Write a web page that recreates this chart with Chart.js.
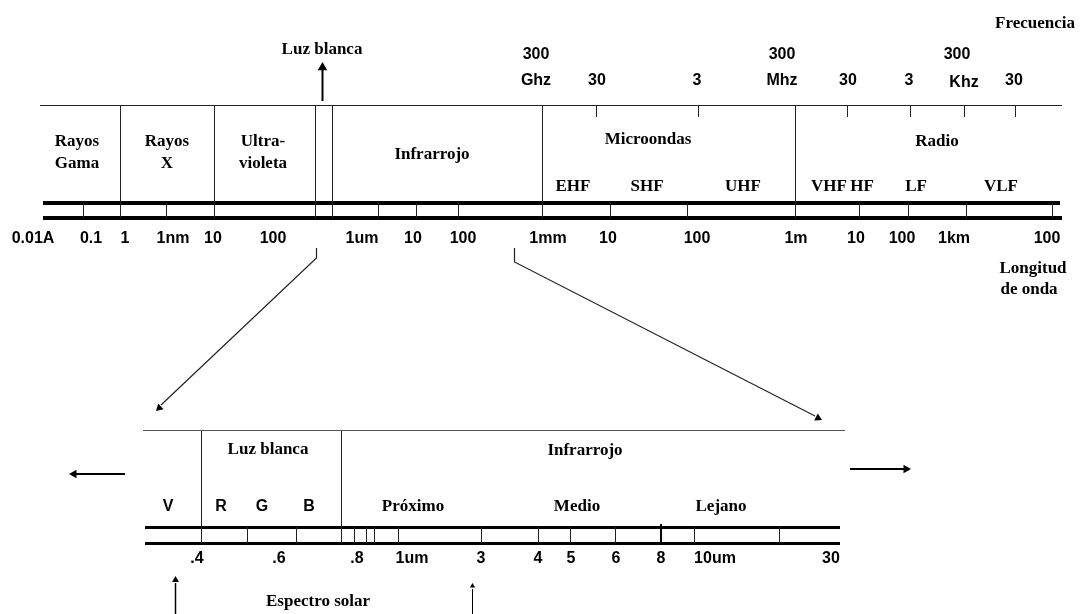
<!DOCTYPE html>
<html>
<head>
<meta charset="utf-8">
<title>Espectro electromagnético</title>
<script src="https://cdn.jsdelivr.net/npm/chart.js@4.4.1/dist/chart.umd.min.js"></script>
<style>
  html, body { margin: 0; background: #fff; }
  canvas { display: block; }
</style>
</head>
<body>
<canvas id="spectrum" width="1082" height="614"></canvas>
<script>
/* ============================================================
   Espectro electromagnético - diagrama dibujado con Chart.js
   Las posiciones son unidades del eje (0..1082, 0..614)
   ============================================================ */

// --- espectro completo (arriba) ---
const bandEdges = [120, 214, 315, 332, 542, 795];
const bandNames = [['Rayos', 'Gama'], ['Rayos', 'X'], ['Ultra-', 'violeta'], ['Infrarrojo'], ['Microondas'], ['Radio']];
const bandNameX = [77, 167, 263, 432, 648, 937];

const subBands = ['EHF', 'SHF', 'UHF', 'VHF', 'HF', 'LF', 'VLF'];
const subBandX = [573, 647, 743, 829, 862, 916, 1001];

const wlTicks = [83, 166, 378, 416, 458, 610, 687, 859, 908, 966, 1052];
const wlLabels = ['0.01A', '0.1', '1', '1nm', '10', '100', '1um', '10', '100', '1mm', '10', '100', '1m', '10', '100', '1km', '100'];
const wlLabelX = [33, 91, 125, 173, 213, 273, 362, 413, 463, 548, 608, 697, 796, 856, 902, 954, 1047];

const freqTicks = [596, 698, 847, 910, 964, 1015];
const freqNumbers = ['30', '3', '30', '3', '30'];
const freqNumberX = [597, 697, 848, 909, 1014];
const freqUnits = ['Ghz', 'Mhz', 'Khz'];
const freqUnitX = [536, 782, 964];
const freq300X = [536, 782, 957];

// --- detalle visible / infrarrojo (abajo) ---
const detailEdges = [201, 341];
const detailTicks = [247, 296, 354, 366, 374, 398, 481, 538, 570, 615, 694, 779];
const detailLabels = ['.4', '.6', '.8', '1um', '3', '4', '5', '6', '8', '10um', '30'];
const detailLabelX = [197, 279, 357, 412, 481, 538, 571, 616, 661, 715, 831];
const colorBands = ['V', 'R', 'G', 'B'];
const colorBandX = [168, 221, 262, 309];
const irBands = ['Próximo', 'Medio', 'Lejano'];
const irBandX = [413, 577, 721];

const SERIF = 'bold 17px "Liberation Serif", "Times New Roman", serif';
const SANS = 'bold 16px "Liberation Sans", Arial, sans-serif';

const datasets = [];
const texts = [];

function seg(x1, y1, x2, y2, w, color) {
  datasets.push({
    data: [{ x: x1, y: y1 }, { x: x2, y: y2 }],
    showLine: true,
    borderColor: color || '#000',
    borderWidth: w || 1,
    pointRadius: 0,
    pointHoverRadius: 0
  });
}

function poly(points, w, color) {
  datasets.push({
    data: points.map(p => ({ x: p[0], y: p[1] })),
    showLine: true,
    borderColor: color || '#000',
    borderWidth: w || 1,
    pointRadius: 0,
    pointHoverRadius: 0
  });
}

// arrow head drawn as a rotated triangle point at the tip
function head(tx, ty, fromX, fromY, r) {
  const dx = tx - fromX, dy = ty - fromY;
  const len = Math.hypot(dx, dy);
  const ux = dx / len, uy = dy / len;
  datasets.push({
    data: [{ x: tx - ux * r, y: ty - uy * r }],
    pointStyle: 'triangle',
    pointRadius: r,
    pointRotation: Math.atan2(dx, -dy) * 180 / Math.PI,
    backgroundColor: '#000',
    borderColor: '#000',
    borderWidth: 0,
    showLine: false
  });
}

// serif glyphs sit a bit high with a middle baseline, nudge them down
function txt(t, x, y, font) {
  texts.push({ t, x, y: y + (font === SERIF ? 2 : 1.5), font });
}

// ---------- top diagram ----------
seg(40, 105.5, 1062, 105.5, 1, '#222');
bandEdges.forEach(x => seg(x + 0.5, 105, x + 0.5, 218, 1, '#222'));
wlTicks.forEach(x => seg(x + 0.5, 203, x + 0.5, 218, 1, '#222'));
freqTicks.forEach(x => seg(x + 0.5, 105, x + 0.5, 117, 1, '#222'));
seg(43, 203, 1060, 203, 4);
seg(43, 218, 1062, 218, 4);

bandNames.forEach((lines, i) => {
  if (lines.length === 2) {
    txt(lines[0], bandNameX[i], 140, SERIF);
    txt(lines[1], bandNameX[i], 162, SERIF);
  }
});
txt('Infrarrojo', bandNameX[3], 153, SERIF);
txt('Microondas', bandNameX[4], 138, SERIF);
txt('Radio', bandNameX[5], 140, SERIF);
subBands.forEach((s, i) => txt(s, subBandX[i], 185, SERIF));
wlLabels.forEach((s, i) => txt(s, wlLabelX[i], 237, SANS));

freq300X.forEach(x => txt('300', x, 53, SANS));
freqUnits.forEach((s, i) => txt(s, freqUnitX[i], i === 2 ? 81 : 79, SANS));
freqNumbers.forEach((s, i) => txt(s, freqNumberX[i], 79, SANS));

txt('Frecuencia', 1035, 22, SERIF);
txt('Luz blanca', 322, 48, SERIF);
txt('Longitud', 1033, 267, SERIF);
txt('de onda', 1029, 288, SERIF);

// luz blanca arrow
seg(322.5, 101, 322.5, 70, 2);
head(322.5, 62, 322.5, 101, 5.5);

// zoom connectors
poly([[316.5, 248], [316.5, 258], [161, 405]], 1.2, '#222');
head(156, 411, 316.5, 258, 4.5);
poly([[514.5, 248], [514.5, 262], [815, 416]], 1.2, '#222');
head(822, 420, 514.5, 262, 4.5);

// ---------- bottom diagram ----------
seg(143, 430.5, 845, 430.5, 1, '#555');
detailEdges.forEach(x => seg(x + 0.5, 430, x + 0.5, 543, 1, '#222'));
detailTicks.forEach(x => seg(x + 0.5, 527, x + 0.5, 543, 1, '#222'));
seg(661, 524, 661, 545, 2);
seg(145, 527.5, 840, 527.5, 3);
seg(145, 543.5, 840, 543.5, 3);

txt('Luz blanca', 268, 448, SERIF);
txt('Infrarrojo', 585, 449, SERIF);
colorBands.forEach((s, i) => txt(s, colorBandX[i], 505, SANS));
irBands.forEach((s, i) => txt(s, irBandX[i], 505, SERIF));
detailLabels.forEach((s, i) => txt(s, detailLabelX[i], 557, SANS));
txt('Espectro solar', 318, 600, SERIF);

// side arrows
seg(125, 474, 76, 474, 2);
head(69, 474, 125, 474, 5);
seg(850, 469, 904, 469, 2);
head(911, 469, 850, 469, 5);

// solar spectrum arrows
seg(175.5, 614, 175.5, 583, 1.5);
head(175.5, 576, 175.5, 614, 4);
seg(472.5, 614, 472.5, 589, 1);
head(472.5, 583, 472.5, 614, 3);

const textPlugin = {
  id: 'diagramText',
  afterDatasetsDraw(chart) {
    const ctx = chart.ctx;
    const xs = chart.scales.x, ys = chart.scales.y;
    ctx.save();
    ctx.fillStyle = '#000';
    ctx.textAlign = 'center';
    ctx.textBaseline = 'middle';
    texts.forEach(item => {
      ctx.font = item.font;
      ctx.fillText(item.t, xs.getPixelForValue(item.x), ys.getPixelForValue(item.y));
    });
    ctx.restore();
  }
};

new Chart(document.getElementById('spectrum'), {
  type: 'scatter',
  data: { datasets },
  options: {
    responsive: false,
    animation: false,
    events: [],
    layout: { padding: 0, autoPadding: false },
    plugins: { legend: { display: false }, tooltip: { enabled: false } },
    scales: {
      x: { type: 'linear', min: 0, max: 1082, display: false },
      y: { type: 'linear', min: 0, max: 614, reverse: true, display: false }
    }
  },
  plugins: [textPlugin]
});
</script>
</body>
</html>
